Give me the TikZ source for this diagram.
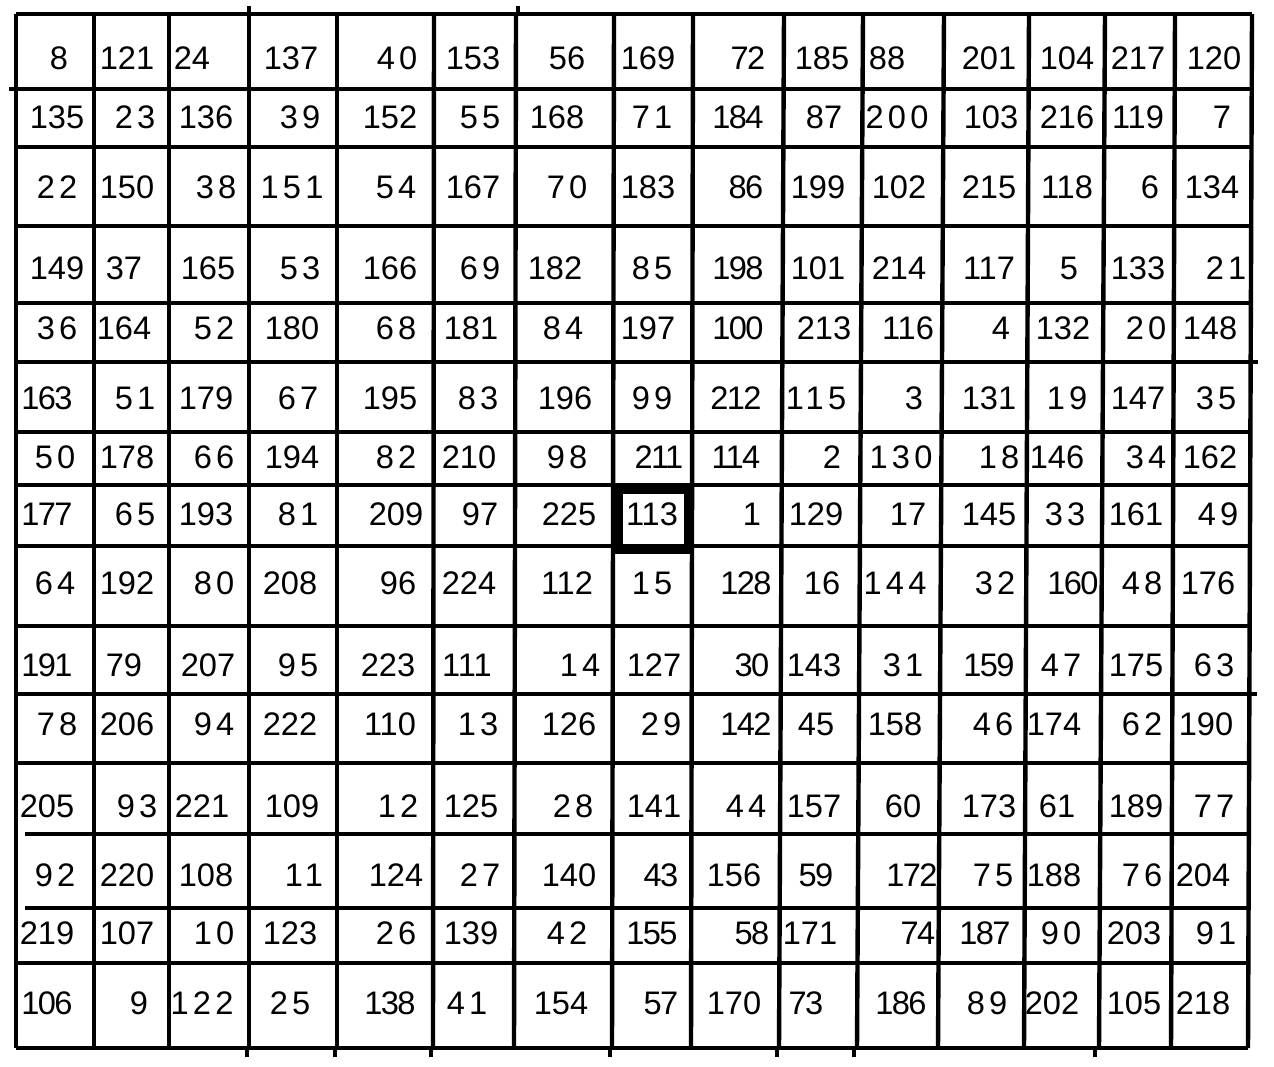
\documentclass[tikz,border=0pt]{standalone}
\usepackage{fontspec}
\setmainfont{Liberation Sans}
\newfontfamily\widefont[LetterSpace=13]{Liberation Sans}
\newfontfamily\narrowfont[LetterSpace=-5]{Liberation Sans}

\begin{document}
\begin{tikzpicture}[x=0.5pt,y=-0.5pt,line width=2.2pt,
	num/.style={inner sep=0pt,font=\fontsize{16.3}{19}\selectfont},
	numn/.style={num},
	numw/.style={num,font=\fontsize{16.3}{19}\widefont},
	numc/.style={num,font=\fontsize{16.3}{19}\narrowfont}]
	\useasboundingbox (0,0) rectangle (1274,1066);
	% grid
	\foreach \xt/\xb in {16/16,94/94,169/169,249/249,337/337,434/433,516/514,614/612,693/691,784/779,863/857,944/938,1029/1024,1105/1099,1175/1171,1252/1248}
		\draw (\xt,14) -- (\xb,1048);
	\foreach \y in {14,89,147,226,303,362,432,485,546,626,694,763,963,1048}
		\draw (16,\y) -- ({1252-4*(\y-14)/1034},\y);
	\foreach \y in {834,908}
		\draw (25,\y) -- ({1252-4*(\y-14)/1034},\y);
	% stray ticks
	\foreach \x in {249,518}
		\draw (\x,14) -- (\x,6);
	\foreach \x in {247,335,431,610,777,854,1095}
		\draw (\x,1048) -- (\x,1057);
	\draw (16,89) -- (9,89);
	\draw (1251,362) -- (1258,362);
	\draw (1250,694) -- (1257,694);
	% centre cell
	\draw [line width=4.5pt] (618,489) rectangle (688,549);
	% numbers
	\foreach \n/\xx/\s [count=\c] in {8/59/n,121/127/n,24/192/n,137/291/n,40/397/w,153/473/n,56/567/n,169/648/n,72/748/c,185/822/n,88/887/n,201/989/n,104/1067/n,217/1138/n,120/1214/n}
		\node [num\s] (r1c\c) at (\xx,58) {\n};
	\foreach \n/\xx/\s [count=\c] in {135/57/n,23/135/w,136/206/n,39/300/w,152/390/n,55/480/w,168/557/n,71/652/w,184/738/c,87/824/n,200/897/w,103/991/n,216/1067/n,119/1138/n,7/1222/n}
		\node [num\s] (r2c\c) at (\xx,117) {\n};
	\foreach \n/\xx/\s [count=\c] in {22/57/w,150/127/n,38/216/w,151/292/w,54/396/w,167/473/n,70/567/w,183/648/n,86/746/c,199/818/n,102/899/n,215/989/n,118/1067/n,6/1150/n,134/1212/n}
		\node [num\s] (r3c\c) at (\xx,187) {\n};
	\foreach \n/\xx/\s [count=\c] in {149/57/n,37/124/n,165/208/n,53/300/w,166/390/n,69/480/w,182/555/n,85/652/w,198/738/c,101/818/n,214/899/n,117/989/n,5/1069/n,133/1138/n,21/1226/w}
		\node [num\s] (r4c\c) at (\xx,268) {\n};
	\foreach \n/\xx/\s [count=\c] in {36/57/w,164/124/n,52/214/w,180/292/n,68/396/w,181/471/n,84/563/w,197/648/n,100/738/c,213/824/n,116/908/n,4/1001/n,132/1063/n,20/1146/w,148/1210/n}
		\node [num\s] (r5c\c) at (\xx,328) {\n};
	\foreach \n/\xx/\s [count=\c] in {163/47/c,51/135/w,179/206/n,67/298/w,195/390/n,83/478/w,196/565/n,99/652/w,212/736/c,115/816/w,3/914/n,131/989/n,19/1067/w,147/1138/n,35/1216/w}
		\node [num\s] (r6c\c) at (\xx,398) {\n};
	\foreach \n/\xx/\s [count=\c] in {50/55/w,178/127/n,66/214/w,194/292/n,82/396/w,210/469/n,98/567/w,211/659/c,114/736/c,2/832/n,130/901/w,18/999/w,146/1057/n,34/1146/w,162/1210/n}
		\node [num\s] (r7c\c) at (\xx,457) {\n};
	\foreach \n/\xx/\s [count=\c] in {177/47/c,65/135/w,193/206/n,81/298/w,209/396/n,97/480/n,225/569/n,113/652/n,1/752/n,129/816/n,17/908/n,145/989/n,33/1065/w,161/1136/n,49/1218/w}
		\node [num\s] (r8c\c) at (\xx,514) {\n};
	\foreach \n/\xx/\s [count=\c] in {64/55/w,192/127/n,80/214/w,208/290/n,96/398/n,224/469/n,112/567/n,15/652/w,128/746/c,16/822/n,144/895/w,32/995/w,160/1073/c,48/1142/w,176/1208/n}
		\node [num\s] (r9c\c) at (\xx,583) {\n};
	\foreach \n/\xx/\s [count=\c] in {191/47/c,79/124/n,207/208/n,95/298/w,223/388/n,111/467/n,14/580/w,127/654/n,30/752/c,143/814/n,31/903/w,159/989/c,47/1061/w,175/1136/n,63/1214/w}
		\node [num\s] (r10c\c) at (\xx,665) {\n};
	\foreach \n/\xx/\s [count=\c] in {78/57/w,206/127/n,94/214/w,222/290/n,110/390/n,13/478/w,126/569/n,29/661/w,142/746/c,45/816/n,158/895/n,46/993/w,174/1054/n,62/1142/w,190/1206/n}
		\node [num\s] (r11c\c) at (\xx,724) {\n};
	\foreach \n/\xx/\s [count=\c] in {205/47/n,93/137/w,221/202/n,109/292/n,12/398/w,125/471/n,28/573/w,141/654/n,44/746/w,157/814/n,60/903/n,173/989/n,61/1057/n,189/1136/n,77/1214/w}
		\node [num\s] (r12c\c) at (\xx,806) {\n};
	\foreach \n/\xx/\s [count=\c] in {92/55/w,220/127/n,108/206/n,11/304/w,124/396/n,27/480/w,140/569/n,43/661/c,156/734/n,59/816/c,172/912/c,75/993/w,188/1054/n,76/1142/w,204/1203/n}
		\node [num\s] (r13c\c) at (\xx,875) {\n};
	\foreach \n/\xx/\s [count=\c] in {219/47/n,107/127/n,10/214/w,123/290/n,26/396/w,139/471/n,42/567/w,155/652/c,58/752/c,171/810/n,74/918/c,187/985/c,90/1061/w,203/1134/n,91/1216/w}
		\node [num\s] (r14c\c) at (\xx,933) {\n};
	\foreach \n/\xx/\s [count=\c] in {106/47/c,9/139/n,122/202/w,25/290/w,138/390/c,41/467/w,154/561/n,57/661/c,170/734/n,73/806/c,186/901/c,89/987/w,202/1052/n,105/1134/n,218/1203/n}
		\node [num\s] (r15c\c) at (\xx,1003) {\n};
\end{tikzpicture}
\end{document}
